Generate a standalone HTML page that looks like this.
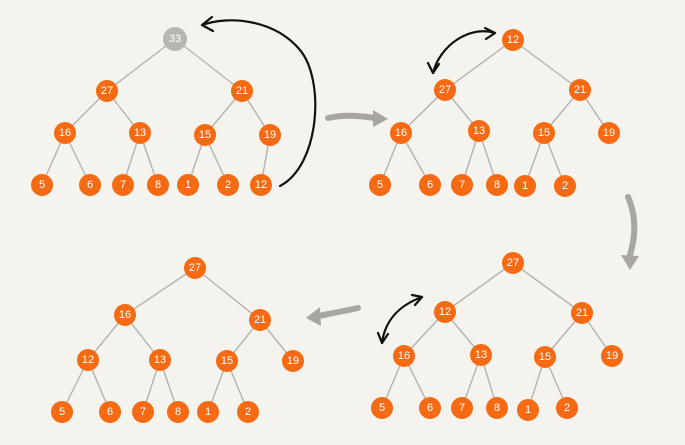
<!DOCTYPE html>
<html><head><meta charset="utf-8"><style>
html,body{margin:0;padding:0;background:#f5f3ee;}
svg{display:block}
.e{stroke:#b4b2ae;stroke-width:1.4;fill:none}
.n{fill:#f56a12}
.t{font-family:"Liberation Sans",sans-serif;font-size:11px;fill:#fff;text-anchor:middle;dominant-baseline:central}
</style></head><body>
<svg width="685" height="445" viewBox="0 0 685 445">
<g class="e">
<!-- tree1 -->
<line x1="175" y1="39" x2="107" y2="91"/><line x1="175" y1="39" x2="242" y2="91"/>
<line x1="107" y1="91" x2="65" y2="133"/><line x1="107" y1="91" x2="140" y2="133"/>
<line x1="242" y1="91" x2="205" y2="135"/><line x1="242" y1="91" x2="270" y2="135"/>
<line x1="65" y1="133" x2="42" y2="185"/><line x1="65" y1="133" x2="90" y2="185"/>
<line x1="140" y1="133" x2="123" y2="185"/><line x1="140" y1="133" x2="158" y2="185"/>
<line x1="205" y1="135" x2="188" y2="185"/><line x1="205" y1="135" x2="228" y2="185"/>
<line x1="270" y1="135" x2="261" y2="185"/>
<!-- tree2 -->
<line x1="513" y1="40" x2="445" y2="90"/><line x1="513" y1="40" x2="580" y2="90"/>
<line x1="445" y1="90" x2="401" y2="133"/><line x1="445" y1="90" x2="479" y2="131"/>
<line x1="580" y1="90" x2="544" y2="133"/><line x1="580" y1="90" x2="609" y2="133"/>
<line x1="401" y1="133" x2="380" y2="185"/><line x1="401" y1="133" x2="430" y2="185"/>
<line x1="479" y1="131" x2="462" y2="185"/><line x1="479" y1="131" x2="497" y2="185"/>
<line x1="544" y1="133" x2="525" y2="186"/><line x1="544" y1="133" x2="565" y2="186"/>
<!-- tree3 -->
<line x1="513" y1="263" x2="445" y2="312"/><line x1="513" y1="263" x2="582" y2="313"/>
<line x1="445" y1="312" x2="404" y2="356"/><line x1="445" y1="312" x2="481" y2="355"/>
<line x1="582" y1="313" x2="545" y2="357"/><line x1="582" y1="313" x2="612" y2="356"/>
<line x1="404" y1="356" x2="382" y2="408"/><line x1="404" y1="356" x2="430" y2="408"/>
<line x1="481" y1="355" x2="462" y2="408"/><line x1="481" y1="355" x2="497" y2="408"/>
<line x1="545" y1="357" x2="528" y2="410"/><line x1="545" y1="357" x2="567" y2="408"/>
<!-- tree4 -->
<line x1="195" y1="268" x2="125" y2="315"/><line x1="195" y1="268" x2="260" y2="320"/>
<line x1="125" y1="315" x2="88" y2="360"/><line x1="125" y1="315" x2="160" y2="360"/>
<line x1="260" y1="320" x2="227" y2="361"/><line x1="260" y1="320" x2="293" y2="361"/>
<line x1="88" y1="360" x2="62" y2="412"/><line x1="88" y1="360" x2="110" y2="412"/>
<line x1="160" y1="360" x2="143" y2="412"/><line x1="160" y1="360" x2="178" y2="412"/>
<line x1="227" y1="361" x2="208" y2="412"/><line x1="227" y1="361" x2="248" y2="412"/>
</g>
<!-- black arrows -->
<g stroke="#111" stroke-width="2.2" fill="none" stroke-linecap="round">
<path d="M280 186 C320 165 325 80 300 50 C275 20 230 15 202 25"/>
<path d="M202 25 L212 17 M202 25 L213 31"/>
<path d="M495 33 C470 25 440 45 433 73"/>
<path d="M495 33 L485 28 M495 33 L486 39 M433 73 L428 63 M433 73 L439 64"/>
<path d="M422 297 C400 305 385 320 382 343"/>
<path d="M422 297 L412 295 M422 297 L415 305 M382 343 L378 333 M382 343 L388 334"/>
</g>
<!-- gray arrows -->
<g stroke="#a8a69e" stroke-width="6" fill="none" stroke-linecap="round">
<path d="M328 118 C345 114 360 116 375 118"/>
<path d="M628 197 C636 215 636 235 630 255"/>
<path d="M358 308 C340 312 328 314 318 316"/>
</g>
<g fill="#a8a69e">
<polygon points="373,110 388,119 373,127"/>
<polygon points="621,255 630,270 639,256"/>
<polygon points="320,307 306,318 321,326"/>
</g>
<!-- nodes -->
<g>
<circle cx="175" cy="39" r="12" fill="#b8b6b0"/><text class="t" x="175" y="39">33</text>
</g>
<g id="nodes"></g>
<g>
<!-- tree1 -->
<circle class="n" cx="107" cy="91" r="11"/><text class="t" x="107" y="91">27</text>
<circle class="n" cx="242" cy="91" r="11"/><text class="t" x="242" y="91">21</text>
<circle class="n" cx="65" cy="133" r="11"/><text class="t" x="65" y="133">16</text>
<circle class="n" cx="140" cy="133" r="11"/><text class="t" x="140" y="133">13</text>
<circle class="n" cx="205" cy="135" r="11"/><text class="t" x="205" y="135">15</text>
<circle class="n" cx="270" cy="135" r="11"/><text class="t" x="270" y="135">19</text>
<circle class="n" cx="42" cy="185" r="11"/><text class="t" x="42" y="185">5</text>
<circle class="n" cx="90" cy="185" r="11"/><text class="t" x="90" y="185">6</text>
<circle class="n" cx="123" cy="185" r="11"/><text class="t" x="123" y="185">7</text>
<circle class="n" cx="158" cy="185" r="11"/><text class="t" x="158" y="185">8</text>
<circle class="n" cx="188" cy="185" r="11"/><text class="t" x="188" y="185">1</text>
<circle class="n" cx="228" cy="185" r="11"/><text class="t" x="228" y="185">2</text>
<circle class="n" cx="261" cy="185" r="11"/><text class="t" x="261" y="185">12</text>
<!-- tree2 -->
<circle class="n" cx="513" cy="40" r="11"/><text class="t" x="513" y="40">12</text>
<circle class="n" cx="445" cy="90" r="11"/><text class="t" x="445" y="90">27</text>
<circle class="n" cx="580" cy="90" r="11"/><text class="t" x="580" y="90">21</text>
<circle class="n" cx="401" cy="133" r="11"/><text class="t" x="401" y="133">16</text>
<circle class="n" cx="479" cy="131" r="11"/><text class="t" x="479" y="131">13</text>
<circle class="n" cx="544" cy="133" r="11"/><text class="t" x="544" y="133">15</text>
<circle class="n" cx="609" cy="133" r="11"/><text class="t" x="609" y="133">19</text>
<circle class="n" cx="380" cy="185" r="11"/><text class="t" x="380" y="185">5</text>
<circle class="n" cx="430" cy="185" r="11"/><text class="t" x="430" y="185">6</text>
<circle class="n" cx="462" cy="185" r="11"/><text class="t" x="462" y="185">7</text>
<circle class="n" cx="497" cy="185" r="11"/><text class="t" x="497" y="185">8</text>
<circle class="n" cx="525" cy="186" r="11"/><text class="t" x="525" y="186">1</text>
<circle class="n" cx="565" cy="186" r="11"/><text class="t" x="565" y="186">2</text>
<!-- tree3 -->
<circle class="n" cx="513" cy="263" r="11"/><text class="t" x="513" y="263">27</text>
<circle class="n" cx="445" cy="312" r="11"/><text class="t" x="445" y="312">12</text>
<circle class="n" cx="582" cy="313" r="11"/><text class="t" x="582" y="313">21</text>
<circle class="n" cx="404" cy="356" r="11"/><text class="t" x="404" y="356">16</text>
<circle class="n" cx="481" cy="355" r="11"/><text class="t" x="481" y="355">13</text>
<circle class="n" cx="545" cy="357" r="11"/><text class="t" x="545" y="357">15</text>
<circle class="n" cx="612" cy="356" r="11"/><text class="t" x="612" y="356">19</text>
<circle class="n" cx="382" cy="408" r="11"/><text class="t" x="382" y="408">5</text>
<circle class="n" cx="430" cy="408" r="11"/><text class="t" x="430" y="408">6</text>
<circle class="n" cx="462" cy="408" r="11"/><text class="t" x="462" y="408">7</text>
<circle class="n" cx="497" cy="408" r="11"/><text class="t" x="497" y="408">8</text>
<circle class="n" cx="528" cy="410" r="11"/><text class="t" x="528" y="410">1</text>
<circle class="n" cx="567" cy="408" r="11"/><text class="t" x="567" y="408">2</text>
<!-- tree4 -->
<circle class="n" cx="195" cy="268" r="11"/><text class="t" x="195" y="268">27</text>
<circle class="n" cx="125" cy="315" r="11"/><text class="t" x="125" y="315">16</text>
<circle class="n" cx="260" cy="320" r="11"/><text class="t" x="260" y="320">21</text>
<circle class="n" cx="88" cy="360" r="11"/><text class="t" x="88" y="360">12</text>
<circle class="n" cx="160" cy="360" r="11"/><text class="t" x="160" y="360">13</text>
<circle class="n" cx="227" cy="361" r="11"/><text class="t" x="227" y="361">15</text>
<circle class="n" cx="293" cy="361" r="11"/><text class="t" x="293" y="361">19</text>
<circle class="n" cx="62" cy="412" r="11"/><text class="t" x="62" y="412">5</text>
<circle class="n" cx="110" cy="412" r="11"/><text class="t" x="110" y="412">6</text>
<circle class="n" cx="143" cy="412" r="11"/><text class="t" x="143" y="412">7</text>
<circle class="n" cx="178" cy="412" r="11"/><text class="t" x="178" y="412">8</text>
<circle class="n" cx="208" cy="412" r="11"/><text class="t" x="208" y="412">1</text>
<circle class="n" cx="248" cy="412" r="11"/><text class="t" x="248" y="412">2</text>
</g>
</svg>
</body></html>
